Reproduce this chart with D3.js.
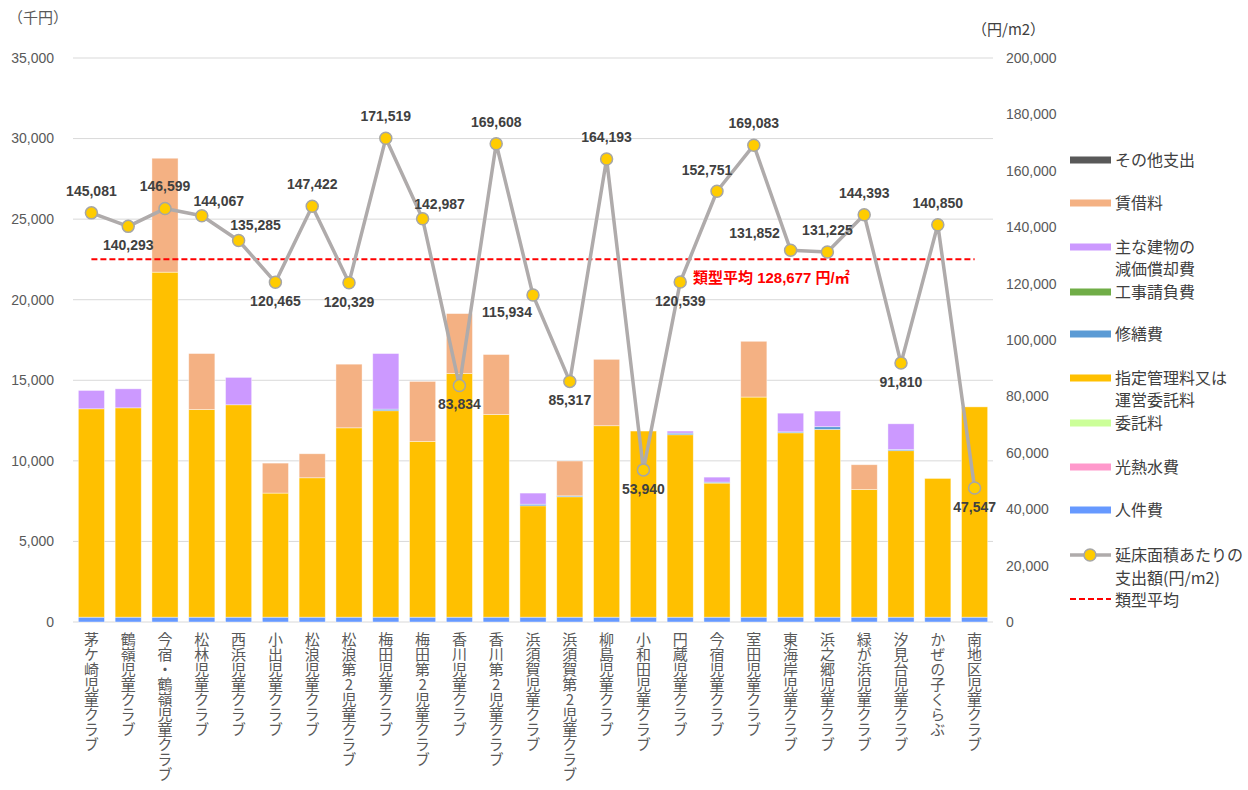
<!DOCTYPE html>
<html>
<head>
<meta charset="utf-8">
<script src="https://cdn.jsdelivr.net/npm/d3@7"></script>
<style>
  body { margin: 0; background: #fff; }
  svg { font-family: "Liberation Sans", "Noto Sans CJK JP", sans-serif; }
</style>
</head>
<body>
<svg id="chart" width="1248" height="790"></svg>
<script>
const categories = ["茅ケ崎児童クラブ", "鶴嶺児童クラブ", "今宿・鶴嶺児童クラブ", "松林児童クラブ", "西浜児童クラブ",
  "小出児童クラブ", "松浪児童クラブ", "松浪第2児童クラブ", "梅田児童クラブ", "梅田第2児童クラブ",
  "香川児童クラブ", "香川第2児童クラブ", "浜須賀児童クラブ", "浜須賀第2児童クラブ", "柳島児童クラブ",
  "小和田児童クラブ", "円蔵児童クラブ", "今宿児童クラブ", "室田児童クラブ", "東海岸児童クラブ",
  "浜之郷児童クラブ", "緑が浜児童クラブ", "汐見台児童クラブ", "かぜの子くらぶ", "南地区児童クラブ"];

// 千円, stacked bottom -> top
const personnel    = [300, 300, 300, 300, 300, 300, 300, 300, 300, 300, 300, 300, 300, 300, 300, 300, 300, 300, 300, 300, 300, 300, 300, 300, 300];
const utilities    = [0, 0, 0, 0, 0, 0, 0, 0, 0, 0, 0, 0, 0, 0, 0, 0, 0, 0, 0, 0, 0, 0, 0, 0, 0];
const commission   = [0, 0, 0, 0, 0, 0, 0, 0, 0, 0, 0, 0, 0, 0, 0, 0, 0, 0, 0, 0, 0, 0, 0, 0, 0];
const designated   = [12930, 12990, 21410, 12890, 13180, 7700, 8650, 11750, 12810, 10910, 15130, 12580, 6910, 7470, 11880, 11550, 11320, 8320, 13660, 11440, 11650, 7930, 10330, 8610, 13050];
const repair       = [0, 0, 0, 0, 0, 0, 0, 0, 100, 0, 0, 0, 100, 60, 0, 0, 100, 60, 0, 60, 170, 0, 80, 0, 0];
const construction = [0, 0, 0, 0, 0, 0, 0, 0, 0, 0, 0, 0, 0, 0, 0, 0, 0, 0, 0, 0, 0, 0, 0, 0, 0];
const depreciation = [1140, 1180, 0, 0, 1700, 0, 0, 0, 3450, 0, 0, 0, 690, 0, 0, 0, 130, 310, 0, 1160, 970, 0, 1590, 0, 0];
const rent         = [0, 0, 7070, 3470, 0, 1860, 1490, 3950, 0, 3720, 3710, 3720, 0, 2160, 4120, 0, 0, 0, 3460, 0, 0, 1530, 0, 0, 0];
const other        = [0, 0, 0, 0, 0, 0, 0, 0, 0, 0, 0, 0, 0, 0, 0, 0, 0, 0, 0, 0, 0, 0, 0, 0, 0];

// 円/m2
const perArea = [145081, 140293, 146599, 144067, 135285, 120465, 147422, 120329, 171519, 142987,
  83834, 169608, 115934, 85317, 164193, 53940, 120539, 152751, 169083, 131852,
  131225, 144393, 91810, 140850, 47547];
const typeAverage = 128677;
const labelPlace = ["a", "b", "a", "ar", "ar", "b", "a", "b", "a", "ar",
  "b", "a", "bl", "b", "a", "b", "b", "al", "a", "l",
  "a", "a", "b", "a", "b"];

const leftTicks = [0, 5000, 10000, 15000, 20000, 25000, 30000, 35000];
const rightTicks = [0, 20000, 40000, 60000, 80000, 100000, 120000, 140000, 160000, 180000, 200000];

const series = [
  { key: "personnel", name: "人件費", values: personnel, color: "#6699ff" },
  { key: "utilities", name: "光熱水費", values: utilities, color: "#ff99cc" },
  { key: "commission", name: "委託料", values: commission, color: "#ccff99" },
  { key: "designated", name: "指定管理料又は\n運営委託料", values: designated, color: "#ffc000" },
  { key: "repair", name: "修繕費", values: repair, color: "#5b9bd5" },
  { key: "construction", name: "工事請負費", values: construction, color: "#70ad47" },
  { key: "depreciation", name: "主な建物の\n減価償却費", values: depreciation, color: "#cc99ff" },
  { key: "rent", name: "賃借料", values: rent, color: "#f4b183" },
  { key: "other", name: "その他支出", values: other, color: "#595959" }
];

const svg = d3.select("#chart");
const plot = { left: 73, right: 993, top: 58, bottom: 622 };

const x = d3.scaleBand().domain(categories).range([plot.left, plot.right])
  .paddingInner(0.29).paddingOuter(0.145);
const y = d3.scaleLinear().domain([0, 35000]).range([plot.bottom, plot.top]);
const y2 = d3.scaleLinear().domain([0, 200000]).range([plot.bottom, plot.top]);

// gridlines
svg.append("g").selectAll("line").data(leftTicks).join("line")
  .attr("x1", plot.left).attr("x2", plot.right)
  .attr("y1", d => y(d)).attr("y2", d => y(d))
  .attr("stroke", "#d9d9d9").attr("stroke-width", 1);

// left axis labels
svg.append("g").selectAll("text").data(leftTicks).join("text")
  .attr("x", 54).attr("y", d => y(d)).attr("dy", "0.35em")
  .attr("text-anchor", "end").attr("font-size", 14).attr("fill", "#595959")
  .text(d => d3.format(",")(d));

// right axis labels
svg.append("g").selectAll("text").data(rightTicks).join("text")
  .attr("x", 1006).attr("y", d => y2(d)).attr("dy", "0.35em")
  .attr("text-anchor", "start").attr("font-size", 14).attr("fill", "#595959")
  .text(d => d3.format(",")(d));

svg.append("text").attr("x", 8).attr("y", 23).attr("font-size", 15).attr("fill", "#595959")
  .attr("font-family", "Noto Sans CJK JP").text("（千円）");
svg.append("text").attr("x", 972).attr("y", 35).attr("font-size", 15).attr("fill", "#404040")
  .attr("font-family", "Noto Sans CJK JP").text("（円/m2）");

// stacked bars
const rows = categories.map((c, i) => {
  const r = { cat: c };
  series.forEach(s => { r[s.key] = s.values[i]; });
  return r;
});
const stacked = d3.stack().keys(series.map(s => s.key))(rows);

svg.append("g").selectAll("g").data(stacked).join("g")
  .attr("fill", (d, i) => series[i].color)
  .selectAll("rect").data(d => d.filter(p => p[1] - p[0] > 0)).join("rect")
  .attr("x", d => x(d.data.cat))
  .attr("width", x.bandwidth())
  .attr("y", d => y(d[1]))
  .attr("height", d => y(d[0]) - y(d[1]))
  .attr("stroke", "rgba(255,255,255,0.55)").attr("stroke-width", 0.75);

// x labels (vertical)
svg.append("g").selectAll("text").data(categories).join("text")
  .attr("x", d => x(d) + x.bandwidth() / 2)
  .attr("y", 632)
  .attr("font-size", 15).attr("fill", "#595959")
  .attr("font-family", "Noto Sans CJK JP")
  .style("writing-mode", "vertical-rl")
  .style("text-orientation", "upright")
  .text(d => d);

// type average dashed line
const cx = d => x(d) + x.bandwidth() / 2;
svg.append("line")
  .attr("x1", cx(categories[0])).attr("x2", cx(categories[categories.length - 1]))
  .attr("y1", y2(typeAverage)).attr("y2", y2(typeAverage))
  .attr("stroke", "#ff0000").attr("stroke-width", 2).attr("stroke-dasharray", "6,3");

svg.append("text")
  .attr("x", 693).attr("y", y2(typeAverage) + 19).attr("dy", "0.35em")
  .attr("font-size", 15).attr("font-weight", "bold").attr("fill", "#ff0000")
  .text("類型平均 " + d3.format(",")(typeAverage) + " 円/㎡");

// per-area line
const pts = categories.map((c, i) => ({ c, v: perArea[i], place: labelPlace[i] }));
svg.append("path").datum(pts)
  .attr("fill", "none").attr("stroke", "#afabab").attr("stroke-width", 3.5)
  .attr("stroke-linejoin", "round")
  .attr("d", d3.line().x(d => cx(d.c)).y(d => y2(d.v)));

svg.append("g").selectAll("circle").data(pts).join("circle")
  .attr("cx", d => cx(d.c)).attr("cy", d => y2(d.v)).attr("r", 6)
  .attr("fill", "#ffcc00").attr("stroke", "#a6a6a6").attr("stroke-width", 1.5);

const offsets = { a: [0, -22], b: [0, 19], ar: [17, -15], al: [-10, -21], bl: [-26, 17], l: [-36, -17] };
svg.append("g").selectAll("text").data(pts).join("text")
  .attr("x", d => cx(d.c) + offsets[d.place][0])
  .attr("y", d => y2(d.v) + offsets[d.place][1])
  .attr("dy", "0.35em").attr("text-anchor", "middle")
  .attr("font-size", 14).attr("font-weight", "bold").attr("fill", "#404040")
  .text(d => d3.format(",")(d.v));

// legend
const legend = svg.append("g").attr("font-family", "Noto Sans CJK JP").attr("font-size", 16).attr("fill", "#404040");
const legendItems = series.slice().reverse();
const legendY = [160, 203, 247, 292, 334, 378, 423, 467, 510];
legendItems.forEach((s, i) => {
  const ly = legendY[i];
  legend.append("rect").attr("x", 1070).attr("y", ly - 3.5).attr("width", 41).attr("height", 7).attr("fill", s.color);
  s.name.split("\n").forEach((t, j) => {
    legend.append("text").attr("x", 1115).attr("y", ly + j * 22).attr("dy", "0.35em").text(t);
  });
});
// line legend
legend.append("line").attr("x1", 1070).attr("x2", 1111).attr("y1", 555).attr("y2", 555)
  .attr("stroke", "#afabab").attr("stroke-width", 3.5);
legend.append("circle").attr("cx", 1090).attr("cy", 555).attr("r", 6)
  .attr("fill", "#ffcc00").attr("stroke", "#a6a6a6").attr("stroke-width", 1.5);
legend.append("text").attr("x", 1115).attr("y", 555).attr("dy", "0.35em").text("延床面積あたりの");
legend.append("text").attr("x", 1115).attr("y", 578).attr("dy", "0.35em").text("支出額(円/m2)");
legend.append("line").attr("x1", 1070).attr("x2", 1111).attr("y1", 599).attr("y2", 599)
  .attr("stroke", "#ff0000").attr("stroke-width", 2).attr("stroke-dasharray", "6,3");
legend.append("text").attr("x", 1115).attr("y", 600).attr("dy", "0.35em").text("類型平均");
</script>
</body>
</html>
